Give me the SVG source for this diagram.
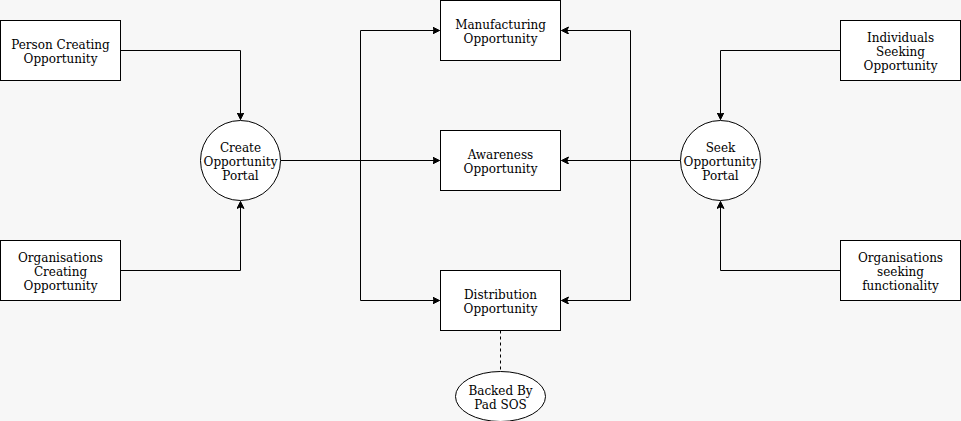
<svg xmlns="http://www.w3.org/2000/svg" width="961" height="421" viewBox="0 0 961 421">
<style>
.n{fill:#ffffff;stroke:#000000;stroke-width:1}
.t{font-family:"DejaVu Serif",serif;font-size:12px;fill:#000000;text-anchor:middle}
.c{fill:none;stroke:#000000;stroke-width:1}
.d{fill:none;stroke:#000000;stroke-width:1;stroke-dasharray:3,3}
</style>
<defs>
<marker id="a" markerWidth="10" markerHeight="10" refX="7" refY="3.5" orient="auto" markerUnits="userSpaceOnUse">
<path d="M0,0 L7,3.5 L0,7 L1.75,3.5 Z" fill="#000000" stroke="#000000" stroke-width="1"/>
</marker>
</defs>
<rect x="0" y="0" width="961" height="421" fill="#f7f7f7"/>
<g transform="translate(0.5,0.5)">
<g id="connectors">
<path class="c" d="M120,50 H240 V119" marker-end="url(#a)"/>
<path class="c" d="M120,270 H240 V201" marker-end="url(#a)"/>
<path class="c" d="M280,160 H439" marker-end="url(#a)"/>
<path class="c" d="M360,160 V30 H439" marker-end="url(#a)"/>
<path class="c" d="M360,160 V300 H439" marker-end="url(#a)"/>
<path class="c" d="M680,160 H561" marker-end="url(#a)"/>
<path class="c" d="M630,160 V30 H561" marker-end="url(#a)"/>
<path class="c" d="M630,160 V300 H561" marker-end="url(#a)"/>
<path class="c" d="M840,50 H720 V119" marker-end="url(#a)"/>
<path class="c" d="M840,270 H720 V201" marker-end="url(#a)"/>
<path class="d" d="M500,330 V370"/>
</g>
<g id="person-creating">
<rect class="n" x="0" y="20" width="120" height="60"/>
<text class="t" x="60" y="48">Person Creating</text>
<text class="t" x="60" y="62">Opportunity</text>
</g>
<g id="org-creating">
<rect class="n" x="0" y="240" width="120" height="60"/>
<text class="t" x="60" y="261">Organisations</text>
<text class="t" x="60" y="275">Creating</text>
<text class="t" x="60" y="289">Opportunity</text>
</g>
<g id="create-portal">
<circle class="n" cx="240" cy="160" r="40"/>
<text class="t" x="240" y="151">Create</text>
<text class="t" x="240" y="165">Opportunity</text>
<text class="t" x="240" y="179">Portal</text>
</g>
<g id="manufacturing">
<rect class="n" x="440" y="0" width="120" height="60"/>
<text class="t" x="500" y="28">Manufacturing</text>
<text class="t" x="500" y="42">Opportunity</text>
</g>
<g id="awareness">
<rect class="n" x="440" y="130" width="120" height="60"/>
<text class="t" x="500" y="158">Awareness</text>
<text class="t" x="500" y="172">Opportunity</text>
</g>
<g id="distribution">
<rect class="n" x="440" y="270" width="120" height="60"/>
<text class="t" x="500" y="298">Distribution</text>
<text class="t" x="500" y="312">Opportunity</text>
</g>
<g id="backed-by">
<ellipse class="n" cx="500" cy="396" rx="45" ry="25"/>
<text class="t" x="500" y="394">Backed By</text>
<text class="t" x="500" y="408">Pad SOS</text>
</g>
<g id="seek-portal">
<circle class="n" cx="720" cy="160" r="40"/>
<text class="t" x="720" y="151">Seek</text>
<text class="t" x="720" y="165">Opportunity</text>
<text class="t" x="720" y="179">Portal</text>
</g>
<g id="individuals">
<rect class="n" x="840" y="20" width="120" height="60"/>
<text class="t" x="900" y="41">Individuals</text>
<text class="t" x="900" y="55">Seeking</text>
<text class="t" x="900" y="69">Opportunity</text>
</g>
<g id="org-seeking">
<rect class="n" x="840" y="240" width="120" height="60"/>
<text class="t" x="900" y="261">Organisations</text>
<text class="t" x="900" y="275">seeking</text>
<text class="t" x="900" y="289">functionality</text>
</g>
</g>
</svg>
